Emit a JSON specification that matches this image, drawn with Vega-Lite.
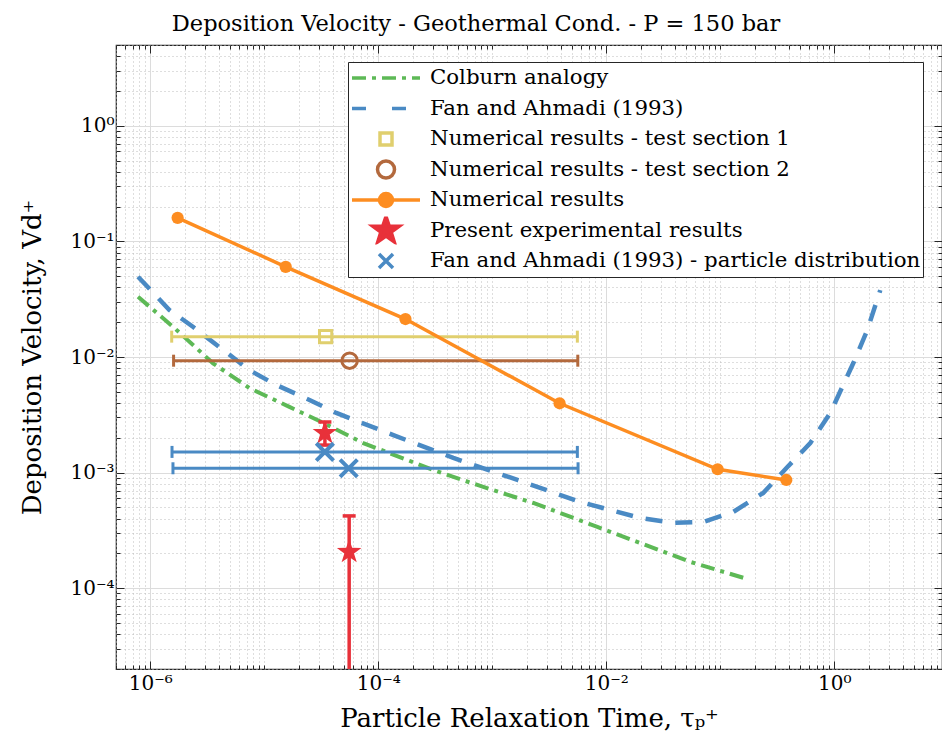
{
  "$schema": "https://vega.github.io/schema/vega-lite/v6.json",
  "width": 826,
  "height": 624,
  "autosize": {"type": "none"},
  "padding": {"left": 116, "top": 45, "right": 0, "bottom": 84},
  "background": "white",
  "title": {
    "text": "Deposition Velocity - Geothermal Cond. - P = 150 bar",
    "font": "DejaVu Serif",
    "fontSize": 22.5,
    "fontWeight": "normal",
    "color": "black",
    "anchor": "middle",
    "dx": -53,
    "offset": 0
  },
  "config": {
    "font": "DejaVu Serif",
    "view": {"stroke": "#262626", "strokeWidth": 1.2},
    "axis": {
      "labelFont": "DejaVu Serif",
      "labelFontSize": 20,
      "labelColor": "black",
      "labelOverlap": false,
      "labelFlush": false,
      "titleFont": "DejaVu Serif",
      "titleFontSize": 26,
      "titleFontWeight": "normal",
      "titleColor": "black",
      "tickColor": "#262626",
      "tickWidth": 1,
      "gridWidth": 1,
      "domain": false
    },
    "legend": {
      "orient": "none",
      "legendX": 232,
      "legendY": 17,
      "padding": 2,
      "strokeColor": "#262626",
      "fillColor": "white",
      "labelFont": "DejaVu Serif",
      "labelFontSize": 21.3,
      "labelColor": "black",
      "labelLimit": 0,
      "rowPadding": 2.5,
      "clipHeight": 28,
      "symbolSize": 400,
      "symbolStrokeWidth": 3.5,
      "symbolOffset": 24,
      "labelOffset": 32
    }
  },
  "datasets": {
    "colburn": [
      {"series": "Colburn analogy", "t": 7.8e-7, "v": 0.0332},
      {"series": "Colburn analogy", "t": 1.58e-6, "v": 0.01828},
      {"series": "Colburn analogy", "t": 3.55e-6, "v": 0.00882},
      {"series": "Colburn analogy", "t": 7.38e-6, "v": 0.0054},
      {"series": "Colburn analogy", "t": 1.66e-5, "v": 0.0037},
      {"series": "Colburn analogy", "t": 3.3e-5, "v": 0.00269},
      {"series": "Colburn analogy", "t": 7.38e-5, "v": 0.0018},
      {"series": "Colburn analogy", "t": 3.03e-4, "v": 0.001054},
      {"series": "Colburn analogy", "t": 8.33e-4, "v": 0.000751},
      {"series": "Colburn analogy", "t": 2.29e-3, "v": 0.000546},
      {"series": "Colburn analogy", "t": 8.34e-3, "v": 0.000339},
      {"series": "Colburn analogy", "t": 0.01987, "v": 0.000246},
      {"series": "Colburn analogy", "t": 0.0545, "v": 0.000169},
      {"series": "Colburn analogy", "t": 0.159, "v": 0.000123}
    ],
    "fan": [
      {"series": "Fan and Ahmadi (1993)", "t": 7.8e-7, "v": 0.0495},
      {"series": "Fan and Ahmadi (1993)", "t": 1.47e-6, "v": 0.0255},
      {"series": "Fan and Ahmadi (1993)", "t": 2.38e-6, "v": 0.01817},
      {"series": "Fan and Ahmadi (1993)", "t": 4.37e-6, "v": 0.01149},
      {"series": "Fan and Ahmadi (1993)", "t": 7.38e-6, "v": 0.00772},
      {"series": "Fan and Ahmadi (1993)", "t": 1.27e-5, "v": 0.00573},
      {"series": "Fan and Ahmadi (1993)", "t": 2.49e-5, "v": 0.00425},
      {"series": "Fan and Ahmadi (1993)", "t": 4.28e-5, "v": 0.00328},
      {"series": "Fan and Ahmadi (1993)", "t": 1.355e-4, "v": 0.00211},
      {"series": "Fan and Ahmadi (1993)", "t": 4.55e-4, "v": 0.00134},
      {"series": "Fan and Ahmadi (1993)", "t": 1.66e-3, "v": 0.000864},
      {"series": "Fan and Ahmadi (1993)", "t": 5.91e-3, "v": 0.000557},
      {"series": "Fan and Ahmadi (1993)", "t": 0.01987, "v": 0.000405},
      {"series": "Fan and Ahmadi (1993)", "t": 0.0387, "v": 0.000367},
      {"series": "Fan and Ahmadi (1993)", "t": 0.071, "v": 0.000374},
      {"series": "Fan and Ahmadi (1993)", "t": 0.13, "v": 0.000457},
      {"series": "Fan and Ahmadi (1993)", "t": 0.238, "v": 0.000667},
      {"series": "Fan and Ahmadi (1993)", "t": 0.382, "v": 0.0011},
      {"series": "Fan and Ahmadi (1993)", "t": 0.615, "v": 0.0018},
      {"series": "Fan and Ahmadi (1993)", "t": 0.922, "v": 0.00328},
      {"series": "Fan and Ahmadi (1993)", "t": 1.468, "v": 0.00887},
      {"series": "Fan and Ahmadi (1993)", "t": 1.948, "v": 0.0171},
      {"series": "Fan and Ahmadi (1993)", "t": 2.53, "v": 0.0379}
    ],
    "sections": [
      {"series": "Numerical results - test section 1", "t": 3.45e-5, "v": 0.015, "tlo": 1.54e-6, "thi": 5.57e-3},
      {"series": "Numerical results - test section 2", "t": 5.6e-5, "v": 0.00929, "tlo": 1.6e-6, "thi": 5.62e-3}
    ],
    "numerical": [
      {"series": "Numerical results", "t": 1.736e-6, "v": 0.16},
      {"series": "Numerical results", "t": 1.54e-5, "v": 0.0603},
      {"series": "Numerical results", "t": 1.73e-4, "v": 0.0213},
      {"series": "Numerical results", "t": 3.89e-3, "v": 0.00398},
      {"series": "Numerical results", "t": 0.0947, "v": 0.001069},
      {"series": "Numerical results", "t": 0.379, "v": 0.000863}
    ],
    "experiment": [
      {"series": "Present experimental results", "t": 3.4e-5, "v": 0.0022, "vlo": 0.00173, "vhi": 0.00274},
      {"series": "Present experimental results", "t": 5.55e-5, "v": 0.000206, "vlo": 1e-7, "vhi": 0.000422}
    ],
    "distribution": [
      {"series": "Fan and Ahmadi (1993) - particle distribution", "t": 3.4e-5, "v": 0.00151, "tlo": 1.55e-6, "thi": 5.57e-3},
      {"series": "Fan and Ahmadi (1993) - particle distribution", "t": 5.5e-5, "v": 0.00109, "tlo": 1.58e-6, "thi": 5.65e-3}
    ]
  },
  "encoding": {
    "x": {"field": "t", "type": "quantitative", "scale": {"type": "log", "domain": [5e-7, 8.8], "nice": false}, "axis": null},
    "y": {"field": "v", "type": "quantitative", "scale": {"type": "log", "domain": [2e-5, 5], "nice": false}, "axis": null},
    "color": {
      "field": "series",
      "type": "nominal",
      "scale": {
        "domain": ["Colburn analogy", "Fan and Ahmadi (1993)", "Numerical results - test section 1", "Numerical results - test section 2", "Numerical results", "Present experimental results", "Fan and Ahmadi (1993) - particle distribution"],
        "range": ["#5db956", "#4a8ac4", "#e0cf6e", "#b3693d", "#fd8d21", "#e8313a", "#4a8ac4"]
      },
      "legend": null
    }
  },
  "resolve": {"axis": {"x": "independent", "y": "independent"}},
  "layer": [
    {
      "data": {"name": "colburn"},
      "mark": {"type": "line", "strokeWidth": 4, "strokeDash": [14, 6, 4, 6], "clip": true},
      "encoding": {
        "x": {
          "field": "t", "type": "quantitative",
          "scale": {"type": "log", "domain": [5e-7, 8.8], "nice": false},
          "axis": {
            "orient": "bottom",
            "values": [5e-7, 6e-7, 7e-7, 8e-7, 9e-7, 1e-6, 2e-6, 3e-6, 4e-6, 5e-6, 6e-6, 7e-6, 8e-6, 9e-6, 1e-5, 2e-5, 3e-5, 4e-5, 5e-5, 6e-5, 7e-5, 8e-5, 9e-5, 1e-4, 2e-4, 3e-4, 4e-4, 5e-4, 6e-4, 7e-4, 8e-4, 9e-4, 1e-3, 2e-3, 3e-3, 4e-3, 5e-3, 6e-3, 7e-3, 8e-3, 9e-3, 0.01, 0.02, 0.03, 0.04, 0.05, 0.06, 0.07, 0.08, 0.09, 0.1, 0.2, 0.3, 0.4, 0.5, 0.6, 0.7, 0.8, 0.9, 1, 2, 3, 4, 5, 6, 7, 8],
            "labelExpr": "datum.value == 0.000001 ? '10⁻⁶' : datum.value == 0.0001 ? '10⁻⁴' : datum.value == 0.01 ? '10⁻²' : datum.value == 1 ? '10⁰' : ''",
            "grid": true,
            "gridColor": {"condition": {"test": "datum.value == 0.000001 || datum.value == 0.0001 || datum.value == 0.01 || datum.value == 1", "value": "#dcdcdc"}, "value": "#bcbcbc"},
            "gridDash": {"condition": {"test": "datum.value == 0.000001 || datum.value == 0.0001 || datum.value == 0.01 || datum.value == 1", "value": []}, "value": [1, 3]},
            "tickSize": {"condition": {"test": "datum.value == 0.000001 || datum.value == 0.0001 || datum.value == 0.01 || datum.value == 1", "value": -8}, "value": -4},
            "labelPadding": 12,
            "title": "Particle Relaxation Time, τₚ⁺",
            "titlePadding": 8
          }
        },
        "y": {
          "field": "v", "type": "quantitative",
          "scale": {"type": "log", "domain": [2e-5, 5], "nice": false},
          "axis": {
            "orient": "left",
            "values": [2e-5, 3e-5, 4e-5, 5e-5, 6e-5, 7e-5, 8e-5, 9e-5, 1e-4, 2e-4, 3e-4, 4e-4, 5e-4, 6e-4, 7e-4, 8e-4, 9e-4, 1e-3, 2e-3, 3e-3, 4e-3, 5e-3, 6e-3, 7e-3, 8e-3, 9e-3, 0.01, 0.02, 0.03, 0.04, 0.05, 0.06, 0.07, 0.08, 0.09, 0.1, 0.2, 0.3, 0.4, 0.5, 0.6, 0.7, 0.8, 0.9, 1, 2, 3, 4, 5],
            "labelExpr": "datum.value == 1 ? '10⁰' : datum.value == 0.1 ? '10⁻¹' : datum.value == 0.01 ? '10⁻²' : datum.value == 0.001 ? '10⁻³' : datum.value == 0.0001 ? '10⁻⁴' : ''",
            "grid": true,
            "gridColor": {"condition": {"test": "datum.value == 1 || datum.value == 0.1 || datum.value == 0.01 || datum.value == 0.001 || datum.value == 0.0001", "value": "#dcdcdc"}, "value": "#bcbcbc"},
            "gridDash": {"condition": {"test": "datum.value == 1 || datum.value == 0.1 || datum.value == 0.01 || datum.value == 0.001 || datum.value == 0.0001", "value": []}, "value": [1, 3]},
            "tickSize": {"condition": {"test": "datum.value == 1 || datum.value == 0.1 || datum.value == 0.01 || datum.value == 0.001 || datum.value == 0.0001", "value": -8}, "value": -4},
            "labelPadding": 10,
            "title": "Deposition Velocity, Vd⁺",
            "titlePadding": 24
          }
        },
        "color": {
          "field": "series",
          "type": "nominal",
          "scale": {
            "domain": ["Colburn analogy", "Fan and Ahmadi (1993)", "Numerical results - test section 1", "Numerical results - test section 2", "Numerical results", "Present experimental results", "Fan and Ahmadi (1993) - particle distribution"],
            "range": ["#5db956", "#4a8ac4", "#e0cf6e", "#b3693d", "#fd8d21", "#e8313a", "#4a8ac4"]
          },
          "legend": {
            "title": null,
            "encoding": {
              "symbols": {
                "shape": {"value": {"expr": "['M-3.4,0H3.4', 'M-3.4,0H3.4', 'M-0.6,-0.6H0.6V0.6H-0.6Z', 'M0.85,0A0.85,0.85,0,1,1,-0.85,0A0.85,0.85,0,1,1,0.85,0Z', 'M-3.4,0H3.4M0.65,0A0.65,0.65,0,1,1,-0.65,0A0.65,0.65,0,1,1,0.65,0Z', 'M0,-1.4L0.323,-0.445L1.331,-0.433L0.523,0.17L0.823,1.133L0,0.55L-0.823,1.133L-0.523,0.17L-1.331,-0.433L-0.323,-0.445Z', 'M-0.7,-0.7L0.7,0.7M-0.7,0.7L0.7,-0.7'][indexof(['Colburn analogy', 'Fan and Ahmadi (1993)', 'Numerical results - test section 1', 'Numerical results - test section 2', 'Numerical results', 'Present experimental results', 'Fan and Ahmadi (1993) - particle distribution'], datum.value)]"}},
                "fillOpacity": {"value": {"expr": "[0, 0, 0, 0, 1, 1, 0][indexof(['Colburn analogy', 'Fan and Ahmadi (1993)', 'Numerical results - test section 1', 'Numerical results - test section 2', 'Numerical results', 'Present experimental results', 'Fan and Ahmadi (1993) - particle distribution'], datum.value)]"}},
                "stroke": {"value": {"expr": "['#5db956', '#4a8ac4', '#e0cf6e', '#b3693d', '#fd8d21', 'transparent', '#4a8ac4'][indexof(['Colburn analogy', 'Fan and Ahmadi (1993)', 'Numerical results - test section 1', 'Numerical results - test section 2', 'Numerical results', 'Present experimental results', 'Fan and Ahmadi (1993) - particle distribution'], datum.value)]"}},
                "strokeDash": {"value": {"expr": "[[14, 6, 4, 6], [14, 26], [], [], [], [], []][indexof(['Colburn analogy', 'Fan and Ahmadi (1993)', 'Numerical results - test section 1', 'Numerical results - test section 2', 'Numerical results', 'Present experimental results', 'Fan and Ahmadi (1993) - particle distribution'], datum.value)]"}},
                "strokeWidth": {"value": 3.5},
                "size": {"value": 400},
                "opacity": {"value": 1}
              }
            }
          }
        }
      }
    },
    {
      "data": {"name": "fan"},
      "mark": {"type": "line", "strokeWidth": 4.5, "strokeDash": [17, 13], "clip": true},
      "encoding": {
        "x": {
          "field": "t", "type": "quantitative",
          "scale": {"type": "log", "domain": [5e-7, 8.8], "nice": false},
          "axis": {
            "orient": "top",
            "values": [5e-7, 6e-7, 7e-7, 8e-7, 9e-7, 1e-6, 2e-6, 3e-6, 4e-6, 5e-6, 6e-6, 7e-6, 8e-6, 9e-6, 1e-5, 2e-5, 3e-5, 4e-5, 5e-5, 6e-5, 7e-5, 8e-5, 9e-5, 1e-4, 2e-4, 3e-4, 4e-4, 5e-4, 6e-4, 7e-4, 8e-4, 9e-4, 1e-3, 2e-3, 3e-3, 4e-3, 5e-3, 6e-3, 7e-3, 8e-3, 9e-3, 0.01, 0.02, 0.03, 0.04, 0.05, 0.06, 0.07, 0.08, 0.09, 0.1, 0.2, 0.3, 0.4, 0.5, 0.6, 0.7, 0.8, 0.9, 1, 2, 3, 4, 5, 6, 7, 8],
            "labels": false,
            "grid": false,
            "title": null,
            "tickSize": {"condition": {"test": "datum.value == 0.000001 || datum.value == 0.0001 || datum.value == 0.01 || datum.value == 1", "value": -8}, "value": -4}
          }
        },
        "y": {
          "field": "v", "type": "quantitative",
          "scale": {"type": "log", "domain": [2e-5, 5], "nice": false},
          "axis": {
            "orient": "right",
            "values": [2e-5, 3e-5, 4e-5, 5e-5, 6e-5, 7e-5, 8e-5, 9e-5, 1e-4, 2e-4, 3e-4, 4e-4, 5e-4, 6e-4, 7e-4, 8e-4, 9e-4, 1e-3, 2e-3, 3e-3, 4e-3, 5e-3, 6e-3, 7e-3, 8e-3, 9e-3, 0.01, 0.02, 0.03, 0.04, 0.05, 0.06, 0.07, 0.08, 0.09, 0.1, 0.2, 0.3, 0.4, 0.5, 0.6, 0.7, 0.8, 0.9, 1, 2, 3, 4, 5],
            "labels": false,
            "grid": false,
            "title": null,
            "tickSize": {"condition": {"test": "datum.value == 1 || datum.value == 0.1 || datum.value == 0.01 || datum.value == 0.001 || datum.value == 0.0001", "value": -8}, "value": -4}
          }
        }
      }
    },
    {
      "data": {"name": "sections"},
      "mark": {"type": "rule", "strokeWidth": 3},
      "encoding": {
        "x": {"field": "tlo", "type": "quantitative", "scale": {"type": "log", "domain": [5e-7, 8.8], "nice": false}, "axis": null},
        "x2": {"field": "thi"}
      }
    },
    {
      "data": {"name": "sections"},
      "mark": {"type": "tick", "orient": "vertical", "size": 12, "thickness": 3, "opacity": 1},
      "encoding": {
        "x": {"field": "tlo", "type": "quantitative", "scale": {"type": "log", "domain": [5e-7, 8.8], "nice": false}, "axis": null}
      }
    },
    {
      "data": {"name": "sections"},
      "mark": {"type": "tick", "orient": "vertical", "size": 12, "thickness": 3, "opacity": 1},
      "encoding": {
        "x": {"field": "thi", "type": "quantitative", "scale": {"type": "log", "domain": [5e-7, 8.8], "nice": false}, "axis": null}
      }
    },
    {
      "data": {"name": "sections"},
      "transform": [{"filter": "datum.series == 'Numerical results - test section 1'"}],
      "mark": {"type": "point", "shape": "square", "size": 150, "filled": false, "strokeWidth": 3, "opacity": 1}
    },
    {
      "data": {"name": "sections"},
      "transform": [{"filter": "datum.series == 'Numerical results - test section 2'"}],
      "mark": {"type": "point", "shape": "circle", "size": 240, "filled": false, "strokeWidth": 3, "opacity": 1}
    },
    {
      "data": {"name": "numerical"},
      "mark": {"type": "line", "strokeWidth": 3.5}
    },
    {
      "data": {"name": "numerical"},
      "mark": {"type": "point", "shape": "circle", "size": 150, "filled": true, "opacity": 1}
    },
    {
      "data": {"name": "experiment"},
      "mark": {"type": "rule", "strokeWidth": 3.5, "clip": true},
      "encoding": {
        "y": {"field": "vlo", "type": "quantitative", "scale": {"type": "log", "domain": [2e-5, 5], "nice": false}, "axis": null},
        "y2": {"field": "vhi"}
      }
    },
    {
      "data": {"name": "experiment"},
      "mark": {"type": "tick", "orient": "horizontal", "size": 13, "thickness": 3.5, "opacity": 1, "clip": true},
      "encoding": {
        "y": {"field": "vhi", "type": "quantitative", "scale": {"type": "log", "domain": [2e-5, 5], "nice": false}, "axis": null}
      }
    },
    {
      "data": {"name": "experiment"},
      "transform": [{"filter": "datum.vlo > 2e-5"}],
      "mark": {"type": "tick", "orient": "horizontal", "size": 13, "thickness": 3.5, "opacity": 1},
      "encoding": {
        "y": {"field": "vlo", "type": "quantitative", "scale": {"type": "log", "domain": [2e-5, 5], "nice": false}, "axis": null}
      }
    },
    {
      "data": {"name": "experiment"},
      "mark": {"type": "point", "shape": "M0,-1.4L0.323,-0.445L1.331,-0.433L0.523,0.17L0.823,1.133L0,0.55L-0.823,1.133L-0.523,0.17L-1.331,-0.433L-0.323,-0.445Z", "size": 340, "filled": true, "opacity": 1}
    },
    {
      "data": {"name": "distribution"},
      "mark": {"type": "rule", "strokeWidth": 3},
      "encoding": {
        "x": {"field": "tlo", "type": "quantitative", "scale": {"type": "log", "domain": [5e-7, 8.8], "nice": false}, "axis": null},
        "x2": {"field": "thi"}
      }
    },
    {
      "data": {"name": "distribution"},
      "mark": {"type": "tick", "orient": "vertical", "size": 12, "thickness": 3, "opacity": 1},
      "encoding": {
        "x": {"field": "tlo", "type": "quantitative", "scale": {"type": "log", "domain": [5e-7, 8.8], "nice": false}, "axis": null}
      }
    },
    {
      "data": {"name": "distribution"},
      "mark": {"type": "tick", "orient": "vertical", "size": 12, "thickness": 3, "opacity": 1},
      "encoding": {
        "x": {"field": "thi", "type": "quantitative", "scale": {"type": "log", "domain": [5e-7, 8.8], "nice": false}, "axis": null}
      }
    },
    {
      "data": {"name": "distribution"},
      "mark": {"type": "point", "shape": "M-1,-1L1,1M-1,1L1,-1", "size": 300, "filled": false, "strokeWidth": 4, "opacity": 1}
    }
  ]
}
